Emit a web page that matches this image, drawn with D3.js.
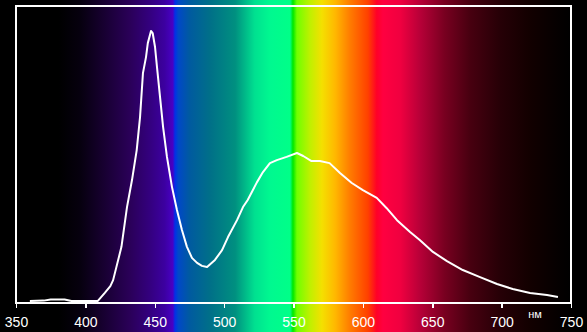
<!DOCTYPE html>
<html>
<head>
<meta charset="utf-8">
<script src="https://cdn.jsdelivr.net/npm/d3@7/dist/d3.min.js"></script>
<style>
  body { margin: 0; background: #000; }
  svg { display: block; }
</style>
</head>
<body>
<div id="chart"></div>
<script>
// Emission spectrum (relative intensity, 1 = top of the frame)
const wavelengths = [360, 370, 375, 385, 390, 409, 414, 418, 420, 426, 430, 433.6, 437, 439.4, 441.5, 443.7, 445, 447.3, 448.5, 450.2,
  451.6, 453.8, 456, 458.8, 462.4, 466, 469.6, 473.2, 476.8, 480.5, 484, 487.7, 493.4, 498.5, 502.8, 509.3, 513.6, 517, 520, 523.7,
  528, 533, 538, 545, 552.5, 557, 563, 569, 576, 583.5, 592, 600, 610, 617, 624.6, 634, 641, 650.5, 660.6, 672, 684, 696.7, 708, 720.5, 732.7, 740.6];
const intensity = [0.007, 0.008, 0.012, 0.012, 0.007, 0.007, 0.034, 0.057, 0.077, 0.189, 0.323, 0.414, 0.515, 0.626, 0.774, 0.828, 0.875, 0.916, 0.909, 0.862,
  0.795, 0.694, 0.593, 0.492, 0.391, 0.313, 0.246, 0.189, 0.152, 0.135, 0.125, 0.121, 0.145, 0.178, 0.222, 0.279, 0.323, 0.347, 0.374, 0.407,
  0.441, 0.471, 0.481, 0.492, 0.505, 0.495, 0.478, 0.478, 0.471, 0.438, 0.404, 0.380, 0.354, 0.320, 0.279, 0.239, 0.212, 0.172, 0.141, 0.111, 0.088, 0.064, 0.047, 0.034, 0.027, 0.020];

const tickValues = [350, 400, 450, 500, 550, 600, 650, 700, 750];
const unitLabel = "нм";

// background spectrum colours by wavelength
const spectrumNm = [381, 396, 410, 432, 447, 457, 463, 464.6, 467, 475, 490, 508, 522, 533, 547.5, 549.6, 552.5, 562, 570.5, 580,
  590.7, 603.7, 610, 614.5, 627, 641, 659, 677, 699, 720.5, 742, 750];
const spectrumColors = ["#000000", "#06000e", "#14002a", "#2a0058", "#340080", "#3c00a0", "#4800c4", "#0030e8", "#0048c8", "#005aa0",
  "#007088", "#009080", "#00e090", "#00f890", "#00ff88", "#00e800", "#70ff00", "#c0f000", "#f4e000", "#ffb800",
  "#ff7c00", "#ff4000", "#ff0028", "#ff0040", "#f00040", "#b80038", "#780020", "#480010", "#260006", "#120000", "#040000", "#000000"];

const width = 587, height = 332;

const svg = d3.select("#chart").append("svg")
    .attr("width", width)
    .attr("height", height);

const x = d3.scaleLinear().domain([350, 750]).range([16, 571]);
const y = d3.scaleLinear().domain([0, 1]).range([303, 6]);

const grad = svg.append("defs").append("linearGradient")
    .attr("id", "spectrum")
    .attr("gradientUnits", "userSpaceOnUse")
    .attr("x1", 0).attr("x2", width)
    .attr("y1", 0).attr("y2", 0);

grad.selectAll("stop")
  .data(spectrumNm)
  .enter().append("stop")
    .attr("offset", d => x(d) / width)
    .attr("stop-color", (d, i) => spectrumColors[i]);

svg.append("rect")
    .attr("width", width)
    .attr("height", height)
    .attr("fill", "url(#spectrum)");

// frame
svg.append("rect")
    .attr("x", x(350))
    .attr("y", y(1))
    .attr("width", x(750) - x(350))
    .attr("height", y(0) - y(1))
    .attr("fill", "none")
    .attr("stroke", "#fff")
    .attr("stroke-width", 2)
    .attr("shape-rendering", "crispEdges");

const xAxis = d3.axisBottom(x)
    .tickValues(tickValues)
    .tickSize(5)
    .tickPadding(9)
    .tickFormat(d3.format("d"));

const axisG = svg.append("g")
    .attr("transform", "translate(0," + y(0) + ")")
    .call(xAxis);

axisG.select(".domain").remove();
axisG.selectAll(".tick line")
    .attr("stroke", "#fff")
    .attr("stroke-width", 1.5)
    .attr("shape-rendering", "crispEdges");
axisG.selectAll(".tick text")
    .attr("fill", "#fff")
    .style("font-family", "'Liberation Sans Narrow', 'Arial Narrow', 'Liberation Sans', sans-serif")
    .style("font-size", "14px");

svg.append("text")
    .attr("x", 535)
    .attr("y", 318)
    .attr("text-anchor", "middle")
    .attr("fill", "#fff")
    .style("font-family", "'Liberation Sans', Arial, sans-serif")
    .style("font-size", "11px")
    .text(unitLabel);

const line = d3.line()
    .x((d, i) => x(d))
    .y((d, i) => y(intensity[i]));

svg.append("path")
    .datum(wavelengths)
    .attr("d", line)
    .attr("fill", "none")
    .attr("stroke", "#fff")
    .attr("stroke-width", 2)
    .attr("stroke-linejoin", "round");
</script>
</body>
</html>
